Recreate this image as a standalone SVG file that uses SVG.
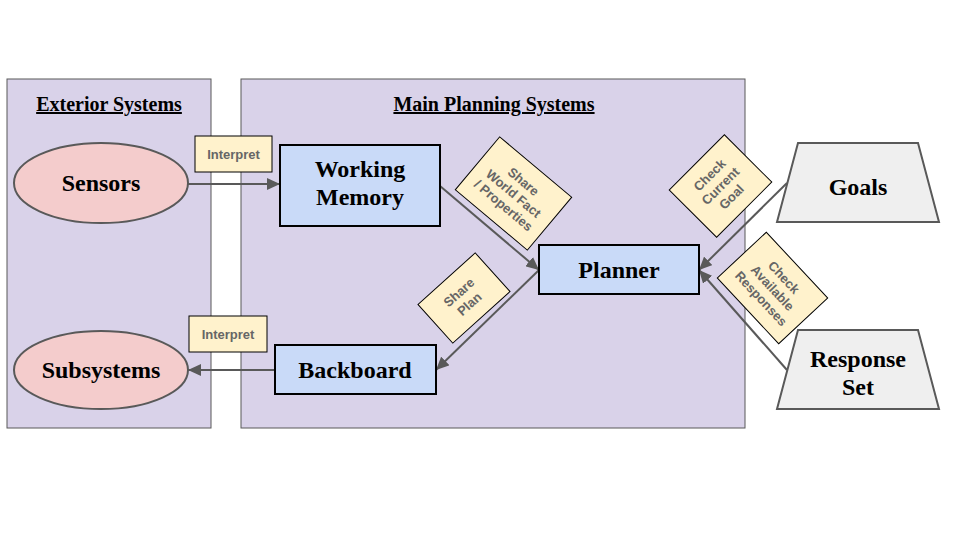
<svg xmlns="http://www.w3.org/2000/svg" width="960" height="540" viewBox="0 0 960 540">
<style>
.panel{fill:#d9d2e9;stroke:#595959;stroke-width:1}
.title{font-family:"Liberation Serif",serif;font-weight:bold;font-size:20px;text-decoration:underline;fill:#000}
.node{font-family:"Liberation Serif",serif;font-weight:bold;font-size:24px;fill:#000}
.ell{fill:#f4cccc;stroke:#595959;stroke-width:2}
.box{fill:#c9daf8;stroke:#000;stroke-width:2}
.trap{fill:#efefef;stroke:#595959;stroke-width:2}
.lab{fill:#fff2cc;stroke:#000;stroke-width:1}
.lt{font-family:"Liberation Sans",Arial,sans-serif;font-weight:bold;font-size:13px;fill:#666666}
.conn{stroke:#595959;stroke-width:2;fill:none;marker-end:url(#arr)}
</style>
<defs>
<marker id="arr" markerUnits="userSpaceOnUse" markerWidth="14" markerHeight="12" refX="13" refY="6" orient="auto">
<path d="M0,0 L13,6 L0,12 z" fill="#595959"/>
</marker>
</defs>
<rect width="960" height="540" fill="#fff"/>
<g id="exterior-panel">
<rect class="panel" x="7" y="79" width="204" height="349"/>
<text class="title" x="109" y="111" text-anchor="middle">Exterior Systems</text>
</g>
<g id="main-panel">
<rect class="panel" x="241" y="79" width="504" height="349"/>
<text class="title" x="494" y="111" text-anchor="middle">Main Planning Systems</text>
</g>
<g id="connectors">
<line class="conn" x1="188" y1="184" x2="280" y2="184"/>
<line class="conn" x1="275" y1="370" x2="188" y2="370"/>
<line class="conn" x1="440" y1="186" x2="539" y2="270"/>
<line class="conn" x1="539" y1="270" x2="436" y2="370"/>
<line class="conn" x1="787" y1="183" x2="699" y2="270"/>
<line class="conn" x1="787" y1="370" x2="699" y2="270"/>
</g>
<g id="sensors">
<ellipse class="ell" cx="101" cy="183" rx="87" ry="40"/>
<text class="node" x="101" y="191" text-anchor="middle">Sensors</text>
</g>
<g id="subsystems">
<ellipse class="ell" cx="101" cy="370" rx="87" ry="39"/>
<text class="node" x="101" y="378" text-anchor="middle">Subsystems</text>
</g>
<g id="working-memory">
<rect class="box" x="280" y="145" width="160" height="81"/>
<text class="node" x="360" y="177" text-anchor="middle">Working</text>
<text class="node" x="360" y="205" text-anchor="middle">Memory</text>
</g>
<g id="planner">
<rect class="box" x="539" y="245" width="160" height="49"/>
<text class="node" x="619" y="278" text-anchor="middle">Planner</text>
</g>
<g id="backboard">
<rect class="box" x="275" y="345" width="161" height="49"/>
<text class="node" x="355" y="378" text-anchor="middle">Backboard</text>
</g>
<g id="goals">
<polygon class="trap" points="798,143 918,143 939,222 777,222"/>
<text class="node" x="858" y="195" text-anchor="middle">Goals</text>
</g>
<g id="response-set">
<polygon class="trap" points="798,330 918,330 939,409 777,409"/>
<text class="node" x="858" y="367" text-anchor="middle">Response</text>
<text class="node" x="858" y="395" text-anchor="middle">Set</text>
</g>
<g id="label-interpret-1">
<rect class="lab" x="195" y="136" width="77" height="36"/>
<text class="lt" x="233.5" y="159" text-anchor="middle">Interpret</text>
</g>
<g id="label-interpret-2">
<rect class="lab" x="189" y="316" width="78" height="36"/>
<text class="lt" x="228" y="339" text-anchor="middle">Interpret</text>
</g>
<g id="label-share-world" transform="translate(513.5,193.5) rotate(40)">
<rect class="lab" x="-47" y="-34.5" width="94" height="69"/>
<text class="lt" text-anchor="middle" y="-11">Share</text>
<text class="lt" text-anchor="middle" y="4.5">World Fact</text>
<text class="lt" text-anchor="middle" y="20">/ Properties</text>
</g>
<g id="label-share-plan" transform="translate(464,298) rotate(-42)">
<rect class="lab" x="-38.5" y="-26" width="77" height="52"/>
<text class="lt" text-anchor="middle" y="-3">Share</text>
<text class="lt" text-anchor="middle" y="12.5">Plan</text>
</g>
<g id="label-check-goal" transform="translate(720.5,186) rotate(-45)">
<rect class="lab" x="-39" y="-33.5" width="78" height="67"/>
<text class="lt" text-anchor="middle" y="-11">Check</text>
<text class="lt" text-anchor="middle" y="4.5">Current</text>
<text class="lt" text-anchor="middle" y="20">Goal</text>
</g>
<g id="label-check-responses" transform="translate(772.5,288) rotate(47)">
<rect class="lab" x="-45" y="-33.5" width="90" height="67"/>
<text class="lt" text-anchor="middle" y="-11">Check</text>
<text class="lt" text-anchor="middle" y="4.5">Available</text>
<text class="lt" text-anchor="middle" y="20">Responses</text>
</g>
</svg>
